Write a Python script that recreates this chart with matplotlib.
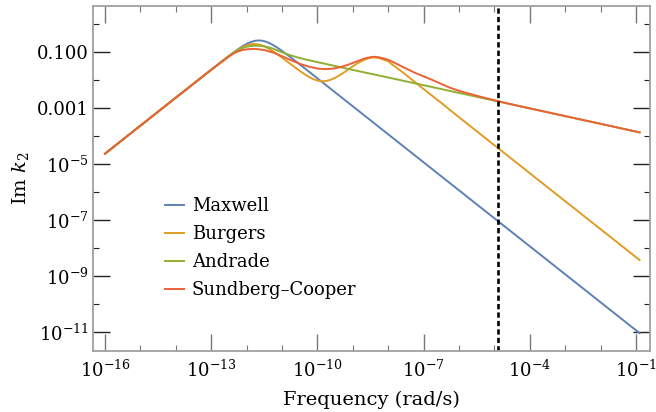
import numpy as np
import matplotlib
matplotlib.use("Agg")
import matplotlib.pyplot as plt

plt.rcParams['font.family'] = ['DejaVu Serif']
plt.rcParams['mathtext.fontset'] = 'dejavuserif'

# log10 frequency / log10 Im k2
maxwell_x = [-16, -14, -13, -12.75, -12.5, -12.375, -12.25, -12.125, -12, -11.875, -11.75, -11.65,
             -11.55, -11.45, -11.375, -11.25, -11.125, -11, -10.875, -10.75, -10.5, -10.25, -10,
             -9.5, -9, -7, -5, -3, -0.9]
maxwell_y = [-4.63, -2.63, -1.632, -1.383, -1.139, -1.021, -0.907, -0.802, -0.711, -0.640, -0.596, -0.586,
             -0.599, -0.633, -0.671, -0.753, -0.851, -0.961, -1.077, -1.197, -1.442, -1.69, -1.94,
             -2.44, -2.94, -4.94, -6.94, -8.94, -11.04]

burgers_x = [-16, -14, -13, -12.5, -12.375, -12.25, -12.125, -12, -11.875, -11.78, -11.625, -11.5,
             -11.375, -11.25, -11.125, -11, -10.875, -10.75, -10.625, -10.5, -10.375, -10.25, -10.125,
             -10, -9.875, -9.75, -9.625, -9.5, -9.375, -9.25, -9.125, -9, -8.875, -8.75, -8.625,
             -8.5, -8.4, -8.25, -8.125, -8, -7.875, -7.75, -7.625, -7.5, -7.25, -7, -6.5, -6,
             -5, -4, -3, -2, -0.9]
burgers_y = [-4.63, -2.63, -1.632, -1.146, -1.032, -0.927, -0.836, -0.765, -0.721, -0.711, -0.738, -0.796,
             -0.878, -0.976, -1.086, -1.20, -1.319, -1.438, -1.556, -1.673, -1.782, -1.881, -1.966,
             -2.02, -2.045, -2.035, -1.99, -1.92, -1.83, -1.73, -1.62, -1.51, -1.41, -1.32, -1.25,
             -1.205, -1.19, -1.22, -1.277, -1.33, -1.46, -1.575, -1.695, -1.815, -2.07, -2.325, -2.82, -3.33,
             -4.33, -5.33, -6.33, -7.33, -8.43]

andrade_x = [-16, -14, -13, -12.5, -12.375, -12.25, -12.125, -12, -11.875, -11.75, -11.625, -11.5,
             -11.375, -11.25, -11.125, -11, -10.875, -10.75, -10.625, -10.5, -10.25, -10, -9.5, -9,
             -8, -7, -6, -5, -4, -3, -2, -0.9]
andrade_y = [-4.63, -2.63, -1.632, -1.14, -1.03, -0.93, -0.86, -0.81, -0.785, -0.775, -0.78, -0.80,
             -0.835, -0.88, -0.95, -1.01, -1.07, -1.12, -1.17, -1.215, -1.29, -1.36, -1.50, -1.64,
             -1.91, -2.185, -2.461, -2.737, -3.013, -3.29, -3.565, -3.87]

sc_x = [-16, -14, -13, -12.5, -12.375, -12.25, -12.125, -12, -11.85, -11.7, -11.5, -11.25, -11,
        -10.75, -10.5, -10.25, -10, -9.875, -9.75, -9.625, -9.5, -9.375, -9.25, -9.125, -9, -8.875,
        -8.75, -8.625, -8.5, -8.4, -8.25, -8.125, -8, -7.875, -7.75, -7.5, -7.25, -7, -6.75, -6.5,
        -6.25, -6, -5.75, -5.5, -5.25, -5, -4.75, -4.5, -4, -3, -2, -0.9]
sc_y = [-4.63, -2.63, -1.635, -1.16, -1.06, -0.98, -0.93, -0.905, -0.89, -0.895, -0.93, -1.02, -1.15,
        -1.29, -1.42, -1.52, -1.59, -1.605, -1.61, -1.60, -1.58, -1.545, -1.50, -1.45, -1.39, -1.33,
        -1.27, -1.215, -1.185, -1.17, -1.19, -1.23, -1.28, -1.35, -1.43, -1.59, -1.74, -1.87, -2.00, -2.14,
        -2.28, -2.385, -2.475, -2.56, -2.645, -2.72, -2.80, -2.873, -3.013, -3.29, -3.565, -3.87]

series_names = ['Maxwell', 'Burgers', 'Andrade', 'Sundberg\u2013Cooper']
series_colors = ['#5E81B5', '#E19C24', '#8FB032', '#EB6235']

dashed_x = 10 ** -4.905

xtick_vals = [1e-16, 1e-13, 1e-10, 1e-7, 1e-4, 1e-1]
xtick_labels = ['$10^{-16}$', '$10^{-13}$', '$10^{-10}$', '$10^{-7}$', '$10^{-4}$', '$10^{-1}$']
ytick_vals = [1e-1, 1e-3, 1e-5, 1e-7, 1e-9, 1e-11]
ytick_labels = ['0.100', '0.001', '$10^{-5}$', '$10^{-7}$', '$10^{-9}$', '$10^{-11}$']

fig = plt.figure(figsize=(6.56, 4.12), dpi=100)
ax = fig.add_axes([0.1418, 0.148, 0.8491, 0.8374])

for xs, ys, name, c in zip([maxwell_x, burgers_x, andrade_x, sc_x],
                           [maxwell_y, burgers_y, andrade_y, sc_y],
                           series_names, series_colors):
    ax.plot(10 ** np.array(xs), 10 ** np.array(ys), color=c, lw=1.4, label=name,
            solid_joinstyle='round')

ax.axvline(dashed_x, color='black', lw=1.9, ls=(0, (2.0, 1.2)))

ax.set_xscale('log')
ax.set_yscale('log')
ax.set_xlim(10 ** -16.339, 10 ** -0.605)
ax.set_ylim(10 ** -11.679, 10 ** 0.643)

ax.set_xticks(xtick_vals)
ax.set_xticklabels(xtick_labels)
ax.set_xticks([10.0 ** e for e in range(-16, 0) if (e + 16) % 3 != 0], minor=True)
ax.set_xticklabels([], minor=True)
ax.set_yticks(ytick_vals)
ax.set_yticklabels(ytick_labels)
ax.set_yticks([10.0 ** e for e in range(0, -12, -2)], minor=True)
ax.set_yticklabels([], minor=True)

ax.tick_params(which='both', direction='in', top=True, right=True)
ax.tick_params(which='major', length=12, width=1.0, labelsize=13)
ax.tick_params(which='minor', length=4.3, width=0.8)
ax.tick_params(axis='y', which='major', pad=3)
ax.tick_params(axis='x', which='major', pad=6)
ax.tick_params(axis='y', which='both', color='#222222')
ax.tick_params(axis='x', which='both', color='#777777')

for s in ax.spines.values():
    s.set_color('#a0a0a0')
    s.set_linewidth(1.3)

ax.set_xlabel('Frequency (rad/s)', fontsize=14, labelpad=7)
ax.set_ylabel('Im $k_2$', fontsize=14, labelpad=4)

leg = ax.legend(loc='upper left', bbox_to_anchor=(0.129, 0.446), frameon=False,
                fontsize=13, handlelength=1.05, handletextpad=0.45, labelspacing=0.55,
                borderpad=0, borderaxespad=0)
for line in leg.get_lines():
    line.set_linewidth(1.4)

fig.savefig('out.png', dpi=100)
